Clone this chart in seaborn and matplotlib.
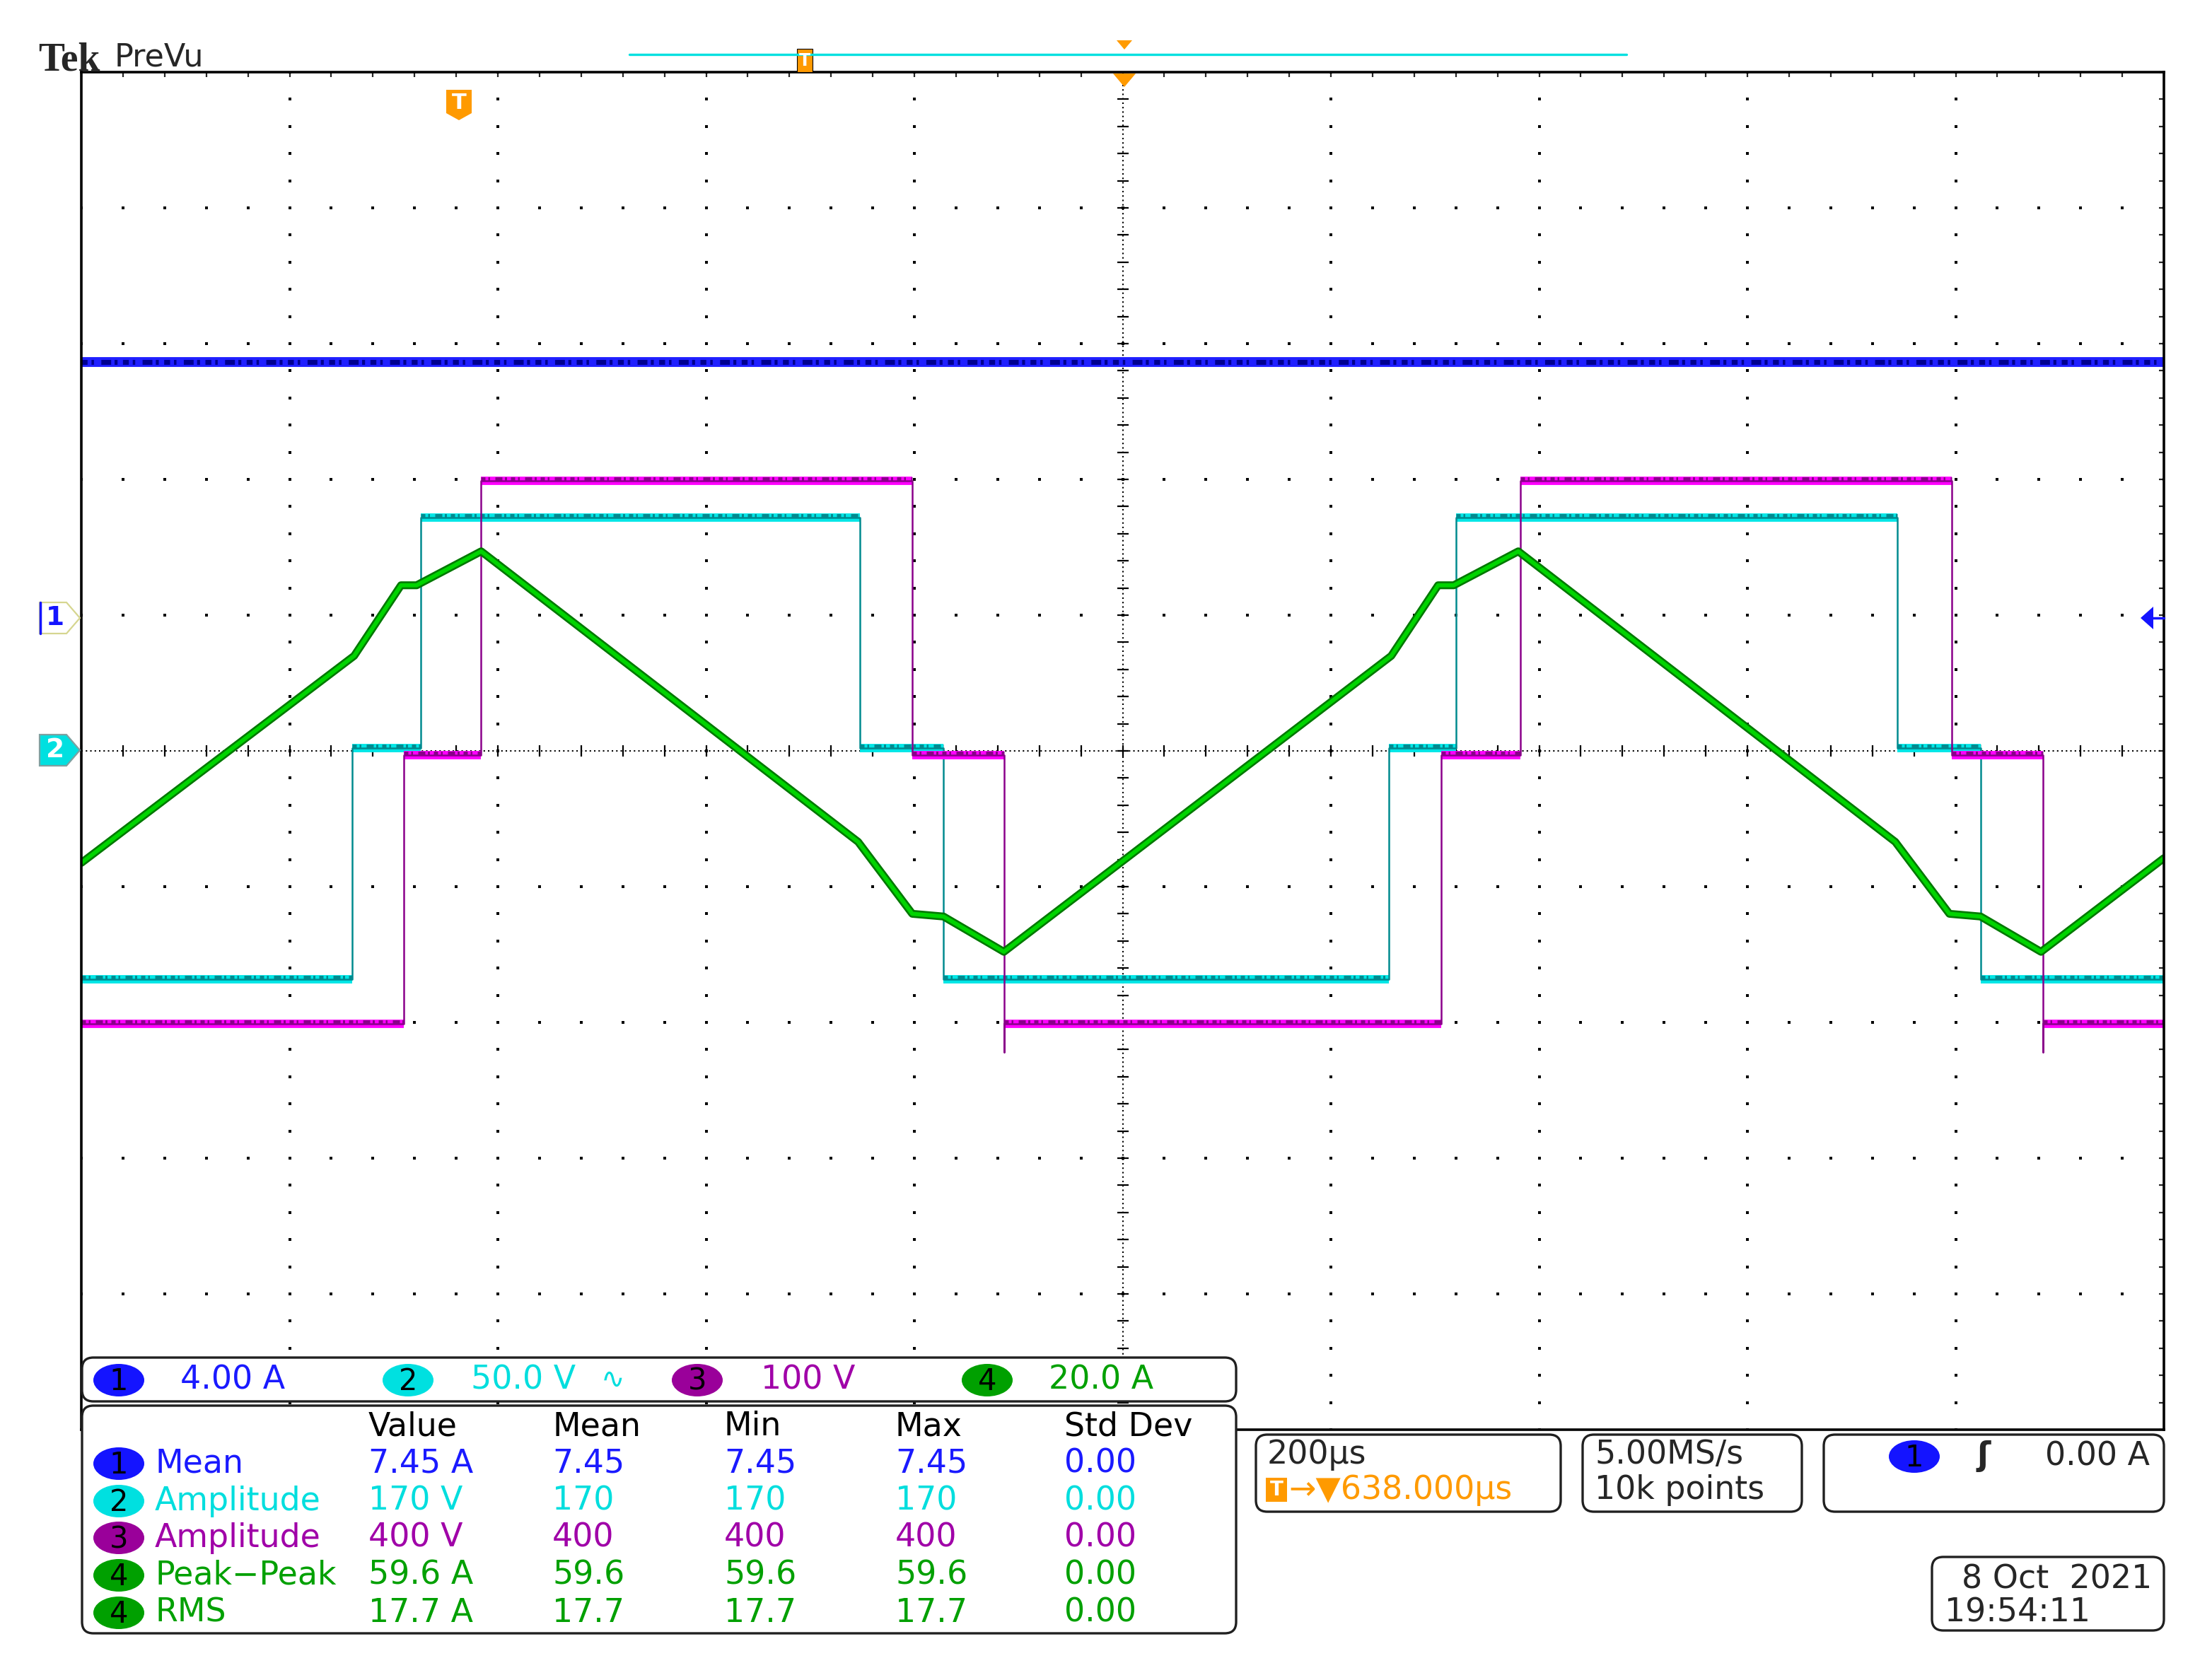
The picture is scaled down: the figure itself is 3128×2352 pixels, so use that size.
import numpy as np
import matplotlib
matplotlib.use("Agg")
import matplotlib.pyplot as plt
import matplotlib.patheffects as pe
from matplotlib.patches import FancyBboxPatch, Ellipse, Polygon, Rectangle
import pandas as pd
import seaborn as sns

sns.set_style("white")
plt.rcParams['font.family'] = ['DejaVu Sans']

W, H = 3128, 2352

# scope settings
us_per_div = 200
ch_scale = {1: 4.0, 2: 50.0, 3: 100.0, 4: 20.0}   # units per division
ch_offset = {1: 1.0, 2: 0.0, 3: 0.0, 4: 0.0}      # ground marker, divisions

# ch1 current (A)
blue_t_us = [0, 2000]
blue_a = [7.45, 7.45]

# ch2 voltage, three level steps (V)
cyan_edges_us = [260, 326, 748, 828, 1256, 1320, 1744, 1824]
cyan_levels_v = [-84, 1, 86, 1, -84, 1, 86, 1, -84]

# ch3 voltage, three level steps (V)
magenta_edges_us = [310, 384, 798, 886, 1306, 1382, 1796, 1884]
magenta_levels_v = [-201, -3, 199, -3, -201, -3, 199, -3, -201]
magenta_spike_us = [886, 1884]
magenta_spike_v = -222

# ch4 current (A)
green_t_us = [0, 262, 307, 322, 384, 746, 798, 828, 886,
              1258, 1303, 1318, 1380, 1742, 1794, 1824, 1882, 2000]
green_a = [-16.5, 14.0, 24.4, 24.4, 29.4, -13.4, -24.0, -24.4, -29.6,
           14.0, 24.4, 24.4, 29.4, -13.4, -24.0, -24.4, -29.6, -15.8]

# readouts
chan_labels = ["4.00 A", "50.0 V", "100 V", "20.0 A"]
meas_header = ["Value", "Mean", "Min", "Max", "Std Dev"]
meas_chan = [1, 2, 3, 4, 4]
meas_names = ["Mean", "Amplitude", "Amplitude", "Peak\u2212Peak", "RMS"]
meas_values = [["7.45 A", "7.45", "7.45", "7.45", "0.00"],
               ["170 V", "170", "170", "170", "0.00"],
               ["400 V", "400", "400", "400", "0.00"],
               ["59.6 A", "59.6", "59.6", "59.6", "0.00"],
               ["17.7 A", "17.7", "17.7", "17.7", "0.00"]]

col_badge = {1: '#1414ff', 2: '#00e0e0', 3: '#9a009a', 4: '#00a000'}
col_text = {1: '#1a1aff', 2: '#00dede', 3: '#a000a8', 4: '#00a000'}
orange = '#ff9a00'
# mottled look of the sampled traces
speckle = (0, (1.2, 0.8, 0.5, 1.5, 2.0, 0.7, 0.6, 1.1))


def to_div(vals, ch):
    return np.asarray(vals, dtype=float) / ch_scale[ch] + ch_offset[ch]


def step_path(edges, levels, spikes=(), spike_v=None):
    ts, vs = [0], [levels[0]]
    for e, a, b in zip(edges, levels[:-1], levels[1:]):
        if e in spikes:
            ts += [e, e, e]
            vs += [a, spike_v, b]
        else:
            ts += [e, e]
            vs += [a, b]
    ts.append(2000)
    vs.append(levels[-1])
    return pd.DataFrame({'t': ts, 'v': vs})


fig = plt.figure(figsize=(W / 100, H / 100), dpi=100)
L, R, T, B = 115, 3060, 102, 2022
ax = fig.add_axes([L / W, 1 - B / H, (R - L) / W, (B - T) / H])
ax.set_xlim(0, 10 * us_per_div)
ax.set_ylim(-5, 5)
for s in ax.spines.values():
    s.set_linewidth(2.6)
    s.set_color('black')
ax.set_xticks(np.arange(0, 2001, 40))
ax.set_yticks(np.arange(-5, 5.01, 0.2))
ax.tick_params(direction='in', length=5, width=1.6, top=True, right=True,
               labelbottom=False, labelleft=False)

# graticule dots
minor_x = np.arange(0, 2001, 40)
minor_y = np.arange(-5, 5.01, 0.2)
for k in range(1, 10):
    if k != 5:
        ax.plot(np.full(minor_y.size, k * 200), minor_y, ls='none', marker='s',
                ms=2.3, color='black', mew=0)
for k in range(-4, 5):
    if k != 0:
        ax.plot(minor_x, np.full(minor_x.size, k), ls='none', marker='s',
                ms=2.3, color='black', mew=0)
ax.axhline(0, color='black', lw=1.5, ls=(0, (1, 2)))
ax.axvline(1000, color='black', lw=1.5, ls=(0, (1, 2)))
ax.plot(minor_x, np.zeros(minor_x.size), ls='none', marker='|', ms=11,
        mew=1.6, color='black')
ax.plot(np.full(minor_y.size, 1000), minor_y, ls='none', marker='_', ms=11,
        mew=1.6, color='black')

# ch1
sns.lineplot(x=blue_t_us, y=to_div(blue_a, 1), color='#2020ff', lw=10,
             ax=ax, legend=False)
sns.lineplot(x=blue_t_us, y=to_div(blue_a, 1), color='#000090', lw=5,
             ls=speckle, ax=ax, legend=False)

# ch2 and ch3 steps
for edges, levels, ch, bright, dark, spikes in [
        (cyan_edges_us, cyan_levels_v, 2, '#00e6e6', '#008a8f', ()),
        (magenta_edges_us, magenta_levels_v, 3, '#ff00ff', '#8a008a',
         magenta_spike_us)]:
    path = step_path(edges, levels, spikes, magenta_spike_v)
    path['y'] = to_div(path['v'], ch)
    ax.hlines(to_div(levels, ch), [0] + edges, edges + [2000],
              color=bright, lw=8.5)
    ax.hlines(to_div(levels, ch) + 0.014, [0] + edges, edges + [2000],
              color=dark, lw=3.6, linestyles=[speckle])
    sns.lineplot(data=path, x='t', y='y', sort=False, estimator=None,
                 color=dark, lw=1.8, ax=ax, legend=False)

# ch4
sns.lineplot(x=green_t_us, y=to_div(green_a, 4), sort=False, estimator=None,
             color='#00d400', lw=4.2, ax=ax, legend=False,
             path_effects=[pe.Stroke(linewidth=8, foreground='#007800'),
                           pe.Normal()])
ax.set_xlabel("")
ax.set_ylabel("")

# overlay in pixel coordinates
ov = fig.add_axes([0, 0, 1, 1], zorder=5)
ov.set_xlim(0, W)
ov.set_ylim(H, 0)
ov.axis('off')
ov.patch.set_alpha(0)

FS = 33


def box(x0, y0, x1, y1):
    ov.add_patch(FancyBboxPatch((x0, y0), x1 - x0, y1 - y0,
                                boxstyle="round,pad=0,rounding_size=16",
                                fc='white', ec='#202020', lw=2.4))


def badge(cx, cy, n):
    ov.add_patch(Ellipse((cx, cy), 72, 46, fc=col_badge[n], ec='none'))
    ov.text(cx, cy + 2, str(n), fontsize=FS - 3, ha='center', va='center',
            color='black')


# header
ov.text(54, 99, "Tek", fontsize=40, fontweight='bold',
        family=['Liberation Serif', 'DejaVu Serif'], va='baseline')
ov.text(162, 93, "PreVu", fontsize=32, va='baseline')
ov.plot([890, 2300], [77, 77], color='#00e0e0', lw=2.4)
ov.add_patch(Rectangle((1127, 69), 22, 33, fc=orange, ec='black', lw=0.8))
ov.text(1138, 86, "T", fontsize=17, fontweight='bold', color='white',
        ha='center', va='center')
ov.add_patch(Polygon([[1579, 57], [1601, 57], [1590, 70]], fc=orange, ec='none'))
ov.add_patch(Polygon([[1574, 104], [1606, 104], [1590, 123]], fc=orange, ec='none'))
ov.add_patch(Polygon([[631, 127], [667, 127], [667, 160], [649, 170], [631, 160]],
                     fc=orange, ec='none'))
ov.text(649, 145, "T", fontsize=22, fontweight='bold', color='white',
        ha='center', va='center')

# ground markers
ov.add_patch(Polygon([[56, 852], [94, 852], [113, 874], [94, 896], [56, 896]],
                     fc='white', ec='#d6d690', lw=1.6))
ov.plot([57, 57], [852, 896], color='#1414ff', lw=2.5)
ov.text(78, 874, "1", fontsize=27, fontweight='bold', color='#1414ff',
        ha='center', va='center')
ov.add_patch(Polygon([[56, 1039], [94, 1039], [113, 1061], [94, 1083], [56, 1083]],
                     fc='#00e0e0', ec='#7fa0a0', lw=1.6))
ov.text(78, 1061, "2", fontsize=27, fontweight='bold', color='white',
        ha='center', va='center')
ov.add_patch(Polygon([[3027, 874], [3045, 858], [3045, 890]], fc='#1414ff', ec='none'))
ov.plot([3040, 3060], [874, 874], color='#1414ff', lw=2.5)

# channel bar
box(116, 1920, 1748, 1982)
for n, cx, tx, lab in zip([1, 2, 3, 4], [168, 577, 986, 1396],
                          [255, 666, 1076, 1483], chan_labels):
    badge(cx, 1952, n)
    ov.text(tx, 1952, lab, fontsize=FS, color=col_text[n], va='center')
ov.text(850, 1952, "\u223f", fontsize=FS - 4, color=col_text[2], va='center')

# measurement table
box(116, 1988, 1748, 2310)
col_x = [521, 781, 1024, 1266, 1505]
for x, h in zip(col_x, meas_header):
    ov.text(x, 2018, h, fontsize=FS, va='center', color='black')
row_y = [2070, 2123, 2175, 2228, 2281]
for y, n, name, vals in zip(row_y, meas_chan, meas_names, meas_values):
    badge(168, y, n)
    ov.text(219, y, name, fontsize=FS, va='center', color=col_text[n])
    for x, v in zip(col_x, vals):
        ov.text(x, y, v, fontsize=FS, va='center', color=col_text[n])

# timebase / acquisition / trigger
box(1776, 2029, 2207, 2138)
ov.text(1792, 2058, "200\u00b5s", fontsize=FS, va='center')
ov.add_patch(Rectangle((1790, 2090), 30, 34, fc=orange, ec='none'))
ov.text(1805, 2107, "T", fontsize=20, fontweight='bold', color='white',
        ha='center', va='center')
ov.text(1822, 2107, "\u2192\u25bc638.000\u00b5s", fontsize=FS, color=orange,
        va='center')
box(2238, 2029, 2548, 2138)
ov.text(2255, 2058, "5.00MS/s", fontsize=FS, va='center')
ov.text(2255, 2107, "10k points", fontsize=FS, va='center')
box(2579, 2029, 3060, 2138)
badge(2707, 2060, 1)
ov.text(2805, 2060, "\u0283", fontsize=FS, va='center', ha='center',
        fontweight='bold')
ov.text(3040, 2060, "0.00 A", fontsize=FS, va='center', ha='right')
box(2732, 2202, 3060, 2306)
ov.text(3043, 2234, "8 Oct  2021", fontsize=FS, va='center', ha='right')
ov.text(2750, 2281, "19:54:11", fontsize=FS, va='center')

fig.savefig("out.png", dpi=100)
